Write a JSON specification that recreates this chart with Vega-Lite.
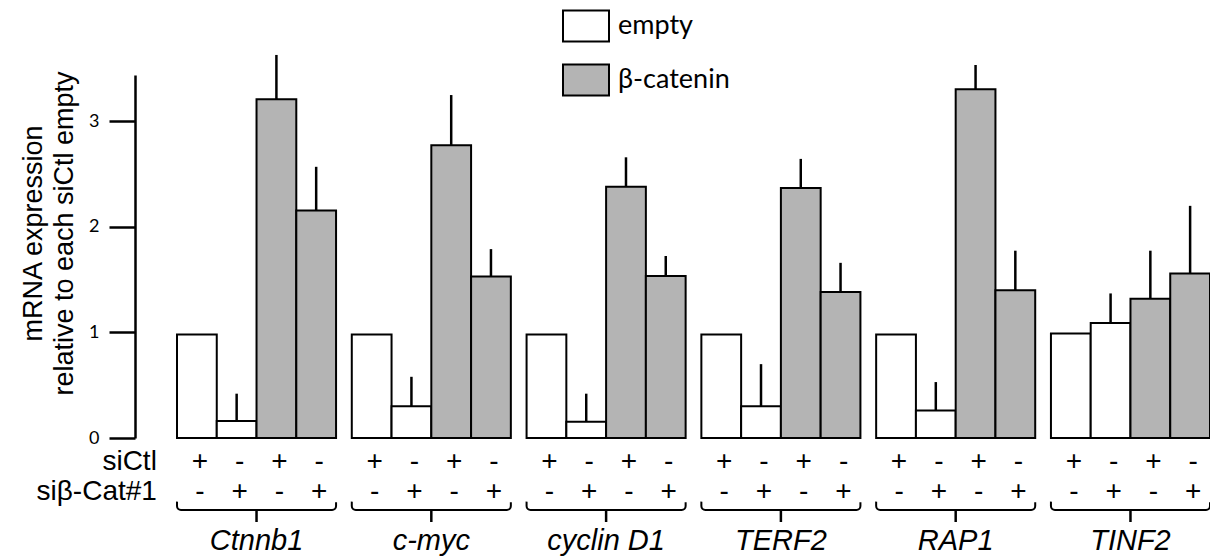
{
  "$schema": "https://vega.github.io/schema/vega-lite/v6.json",
  "width": 1033,
  "height": 363,
  "autosize": {"type": "none"},
  "padding": {"left": 177, "top": 75, "right": 0, "bottom": 121},
  "background": "white",
  "config": {
    "view": {"stroke": null},
    "legend": {
      "orient": "none",
      "legendX": 385,
      "legendY": -73,
      "padding": 0,
      "title": null,
      "labelFont": "Lato",
      "labelFontSize": 27,
      "labelColor": "black",
      "symbolType": "M-1,-0.67H1V0.67H-1Z",
      "symbolSize": 2116,
      "symbolStrokeColor": "black",
      "symbolStrokeWidth": 2,
      "symbolOpacity": 1,
      "rowPadding": 10,
      "labelOffset": 8
    }
  },
  "data": {
    "values": [
      {"gene": "Ctnnb1", "cond": 1, "group": "empty", "value": 0.98, "upper": null, "siCtl": "+", "siCat": "-"},
      {"gene": "Ctnnb1", "cond": 2, "group": "empty", "value": 0.16, "upper": 0.42, "siCtl": "-", "siCat": "+"},
      {"gene": "Ctnnb1", "cond": 3, "group": "β-catenin", "value": 3.21, "upper": 3.63, "siCtl": "+", "siCat": "-"},
      {"gene": "Ctnnb1", "cond": 4, "group": "β-catenin", "value": 2.155, "upper": 2.57, "siCtl": "-", "siCat": "+"},
      {"gene": "c-myc", "cond": 1, "group": "empty", "value": 0.98, "upper": null, "siCtl": "+", "siCat": "-"},
      {"gene": "c-myc", "cond": 2, "group": "empty", "value": 0.30, "upper": 0.58, "siCtl": "-", "siCat": "+"},
      {"gene": "c-myc", "cond": 3, "group": "β-catenin", "value": 2.775, "upper": 3.25, "siCtl": "+", "siCat": "-"},
      {"gene": "c-myc", "cond": 4, "group": "β-catenin", "value": 1.53, "upper": 1.79, "siCtl": "-", "siCat": "+"},
      {"gene": "cyclin D1", "cond": 1, "group": "empty", "value": 0.98, "upper": null, "siCtl": "+", "siCat": "-"},
      {"gene": "cyclin D1", "cond": 2, "group": "empty", "value": 0.155, "upper": 0.42, "siCtl": "-", "siCat": "+"},
      {"gene": "cyclin D1", "cond": 3, "group": "β-catenin", "value": 2.38, "upper": 2.66, "siCtl": "+", "siCat": "-"},
      {"gene": "cyclin D1", "cond": 4, "group": "β-catenin", "value": 1.535, "upper": 1.725, "siCtl": "-", "siCat": "+"},
      {"gene": "TERF2", "cond": 1, "group": "empty", "value": 0.98, "upper": null, "siCtl": "+", "siCat": "-"},
      {"gene": "TERF2", "cond": 2, "group": "empty", "value": 0.30, "upper": 0.70, "siCtl": "-", "siCat": "+"},
      {"gene": "TERF2", "cond": 3, "group": "β-catenin", "value": 2.37, "upper": 2.645, "siCtl": "+", "siCat": "-"},
      {"gene": "TERF2", "cond": 4, "group": "β-catenin", "value": 1.384, "upper": 1.66, "siCtl": "-", "siCat": "+"},
      {"gene": "RAP1", "cond": 1, "group": "empty", "value": 0.98, "upper": null, "siCtl": "+", "siCat": "-"},
      {"gene": "RAP1", "cond": 2, "group": "empty", "value": 0.26, "upper": 0.53, "siCtl": "-", "siCat": "+"},
      {"gene": "RAP1", "cond": 3, "group": "β-catenin", "value": 3.305, "upper": 3.535, "siCtl": "+", "siCat": "-"},
      {"gene": "RAP1", "cond": 4, "group": "β-catenin", "value": 1.40, "upper": 1.775, "siCtl": "-", "siCat": "+"},
      {"gene": "TINF2", "cond": 1, "group": "empty", "value": 0.99, "upper": null, "siCtl": "+", "siCat": "-"},
      {"gene": "TINF2", "cond": 2, "group": "empty", "value": 1.09, "upper": 1.37, "siCtl": "-", "siCat": "+"},
      {"gene": "TINF2", "cond": 3, "group": "β-catenin", "value": 1.32, "upper": 1.775, "siCtl": "+", "siCat": "-"},
      {"gene": "TINF2", "cond": 4, "group": "β-catenin", "value": 1.56, "upper": 2.20, "siCtl": "-", "siCat": "+"}
    ]
  },
  "encoding": {
    "x": {
      "field": "gene", "type": "nominal", "sort": null,
      "scale": {"paddingInner": 0.09, "paddingOuter": 0},
      "axis": null
    }
  },
  "layer": [
    {
      "mark": {"type": "bar", "stroke": "black", "strokeWidth": 2, "opacity": 1},
      "encoding": {
        "xOffset": {"field": "cond", "type": "nominal", "scale": {"paddingInner": 0, "paddingOuter": 0}},
        "y": {
          "field": "value", "type": "quantitative",
          "scale": {"domain": [0, 3.44], "nice": false, "zero": true},
          "axis": {
            "values": [0, 1, 2, 3],
            "format": "d",
            "grid": false,
            "offset": 42,
            "domainColor": "black",
            "domainWidth": 2.5,
            "tickColor": "black",
            "tickWidth": 2.5,
            "tickSize": 26,
            "labelFont": "Lato",
            "labelFontSize": 18,
            "labelColor": "black",
            "labelPadding": 10,
            "title": ["mRNA expression", "relative to each siCtl empty"],
            "titleFont": "Liberation Sans",
            "titleFontSize": 27,
            "titleFontWeight": "normal",
            "titleColor": "black",
            "titlePadding": 10,
            "titleY": 158,
            "titleLineHeight": 31
          }
        },
        "fill": {
          "field": "group", "type": "nominal",
          "scale": {"domain": ["empty", "β-catenin"], "range": ["white", "#b4b4b4"]}
        }
      }
    },
    {
      "transform": [{"filter": "datum.upper != null"}],
      "mark": {"type": "rule", "color": "black", "strokeWidth": 2.5},
      "encoding": {
        "xOffset": {"field": "cond", "type": "nominal"},
        "y": {"field": "value", "type": "quantitative"},
        "y2": {"field": "upper"}
      }
    },
    {
      "mark": {"type": "text", "font": "Liberation Sans", "fontSize": 28, "color": "black", "baseline": "middle", "dx": 3},
      "encoding": {
        "xOffset": {"field": "cond", "type": "nominal"},
        "y": {"datum": -0.2275},
        "text": {"field": "siCtl"}
      }
    },
    {
      "mark": {"type": "text", "font": "Liberation Sans", "fontSize": 28, "color": "black", "baseline": "middle", "dx": 3},
      "encoding": {
        "xOffset": {"field": "cond", "type": "nominal"},
        "y": {"datum": -0.512},
        "text": {"field": "siCat"}
      }
    },
    {
      "transform": [{"filter": "datum.cond == 1"}],
      "mark": {"type": "bar", "fill": "transparent", "stroke": "black", "strokeWidth": 2, "cornerRadius": 4, "strokeDash": [0, 157.3, 171.4, 0]},
      "encoding": {
        "y": {"datum": -0.569},
        "y2": {"datum": -0.682}
      }
    },
    {
      "transform": [{"filter": "datum.cond == 1"}],
      "mark": {"type": "rule", "color": "black", "strokeWidth": 2.5},
      "encoding": {
        "y": {"datum": -0.682},
        "y2": {"datum": -0.796}
      }
    },
    {
      "transform": [{"filter": "datum.cond == 1"}],
      "mark": {"type": "text", "font": "Liberation Sans", "fontSize": 29, "fontStyle": "italic", "color": "black", "baseline": "middle"},
      "encoding": {
        "y": {"datum": -0.975},
        "text": {"field": "gene"}
      }
    },
    {
      "transform": [{"filter": "datum.cond == 1 && datum.gene == 'Ctnnb1'"}],
      "mark": {"type": "text", "font": "Liberation Sans", "fontSize": 28, "color": "black", "baseline": "middle", "align": "right", "dx": -40, "text": "siCtl"},
      "encoding": {
        "xOffset": {"field": "cond", "type": "nominal"},
        "y": {"datum": -0.2275}
      }
    },
    {
      "transform": [{"filter": "datum.cond == 1 && datum.gene == 'Ctnnb1'"}],
      "mark": {"type": "text", "font": "Liberation Sans", "fontSize": 28, "color": "black", "baseline": "middle", "align": "right", "dx": -40, "text": "siβ-Cat#1"},
      "encoding": {
        "xOffset": {"field": "cond", "type": "nominal"},
        "y": {"datum": -0.512}
      }
    }
  ]
}
